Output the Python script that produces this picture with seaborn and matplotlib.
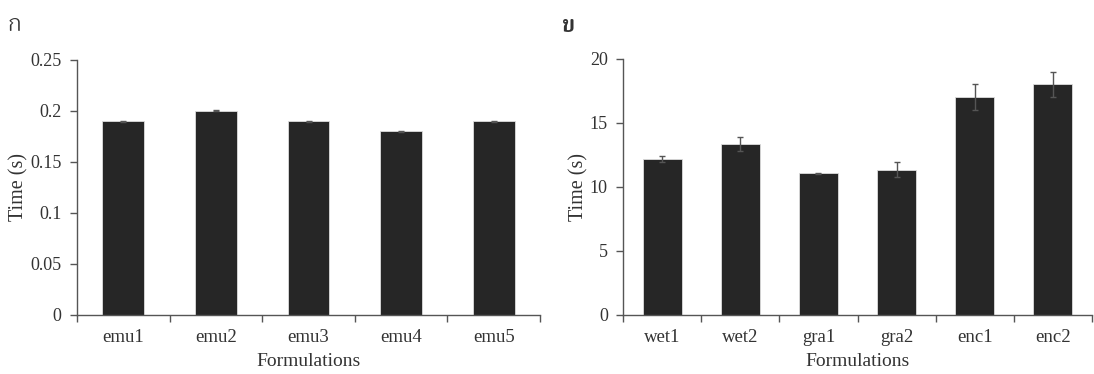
import numpy as np
import matplotlib
matplotlib.use("Agg")
import matplotlib.pyplot as plt
import seaborn as sns
from matplotlib.ticker import FixedLocator, FuncFormatter, NullFormatter

# ---- data ----
emu_labels = ["emu1", "emu2", "emu3", "emu4", "emu5"]
emu_values = [0.19, 0.20, 0.19, 0.18, 0.19]
emu_errors = [0.0005, 0.0005, 0.0005, 0.0005, 0.0005]

other_labels = ["wet1", "wet2", "gra1", "gra2", "enc1", "enc2"]
other_values = [12.15, 13.35, 11.05, 11.33, 17.0, 18.0]
other_errors = [0.25, 0.55, 0.05, 0.6, 1.0, 1.0]

panel_labels = ["ก", "ข"]
y_label = "Time (s)"
x_label = "Formulations"

sns.set_theme(style="white")
plt.rcParams["font.family"] = ["Liberation Serif", "DejaVu Serif"]

fig = plt.figure(figsize=(10.94, 3.74), dpi=100)
ax1 = fig.add_axes([0.0704, 0.158, 0.4232, 0.682])
ax2 = fig.add_axes([0.5695, 0.158, 0.4287, 0.685])

bar_color = "#262626"
axis_color = "#555555"
text_color = "#333333"


def draw(ax, labels, values, errors, width, ymax, ystep, fmt):
    sns.barplot(x=labels, y=values, color=bar_color, width=width, errorbar=None,
                ax=ax, saturation=1, edgecolor="#dddddd", linewidth=0.6)
    ax.errorbar(np.arange(len(labels)), values, yerr=errors, fmt="none",
                ecolor="#555555", elinewidth=1.0, capsize=2.5, capthick=1.0)
    n = len(labels)
    ax.set_xlim(-0.5, n - 0.5)
    ax.set_ylim(0, ymax)
    ax.xaxis.set_major_locator(FixedLocator(np.arange(n + 1) - 0.5))
    ax.xaxis.set_major_formatter(NullFormatter())
    ax.xaxis.set_minor_locator(FixedLocator(np.arange(n)))
    ax.set_xticklabels(labels, minor=True)
    ax.tick_params(axis="x", which="major", direction="out", length=5, width=1,
                   color=axis_color, bottom=True)
    ax.tick_params(axis="x", which="minor", length=0, pad=10.5, labelsize=13.5,
                   labelcolor=text_color)
    ax.set_yticks(np.arange(0, ymax + ystep / 2, ystep))
    ax.yaxis.set_major_formatter(FuncFormatter(fmt))
    ax.tick_params(axis="y", direction="out", length=5, width=1,
                   color=axis_color, left=True, labelsize=13,
                   labelcolor=text_color, pad=6)
    for s in ["top", "right"]:
        ax.spines[s].set_visible(False)
    for s in ["left", "bottom"]:
        ax.spines[s].set_color(axis_color)
        ax.spines[s].set_linewidth(1)
    ax.set_xlabel(x_label, fontsize=14, color=text_color, labelpad=5)
    ax.set_ylabel(y_label, fontsize=14.5, color=text_color, labelpad=1)
    ax.grid(False)


draw(ax1, emu_labels, emu_values, emu_errors, 0.45, 0.25, 0.05,
     lambda v, p: "0" if abs(v) < 1e-9 else ("%.2f" % v).rstrip("0"))
draw(ax2, other_labels, other_values, other_errors, 0.5, 20, 5,
     lambda v, p: "%d" % round(v))

thai_family = ["Maitree", "DejaVu Sans"]
fig.text(0.007, 0.93, panel_labels[0], fontsize=16, color=text_color,
         family=thai_family, va="center")
fig.text(0.514, 0.93, panel_labels[1], fontsize=16, color=text_color,
         family=thai_family, va="center", weight="bold")

fig.savefig("out.png", dpi=100)
